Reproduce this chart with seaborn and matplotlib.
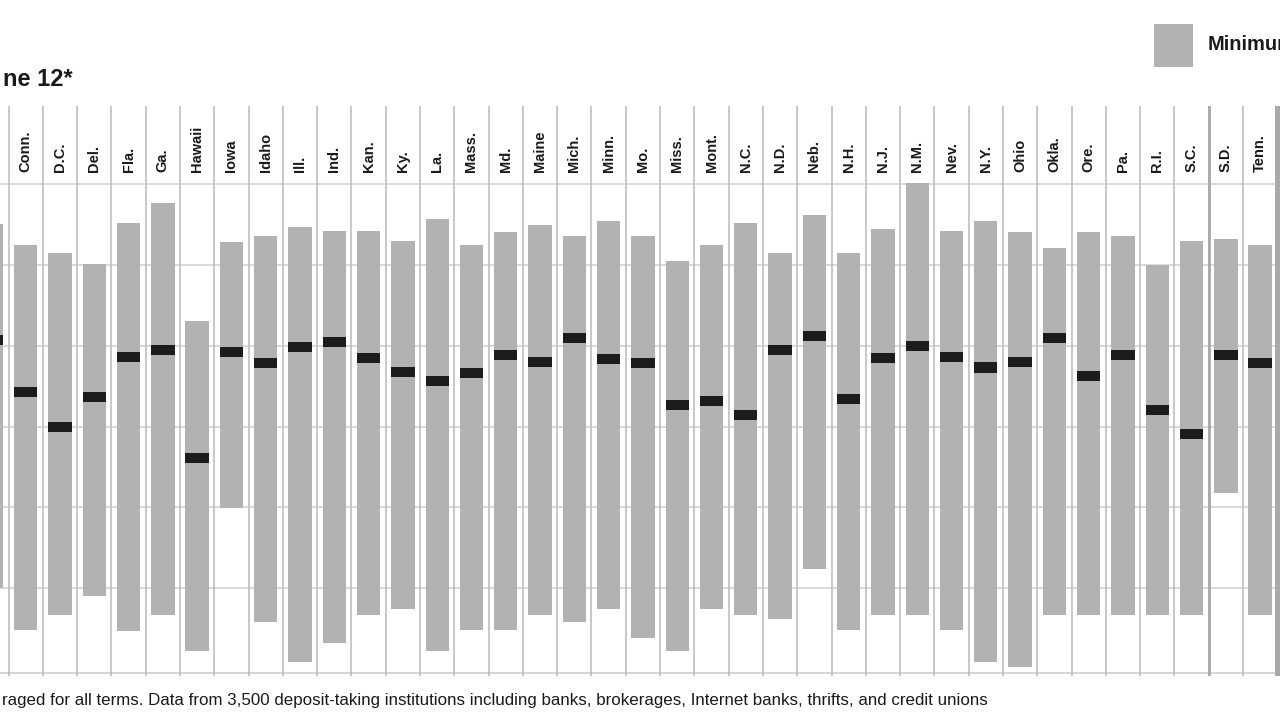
import matplotlib
matplotlib.use("Agg")
import matplotlib.pyplot as plt
from matplotlib.patches import Rectangle
import numpy as np
import pandas as pd
import seaborn as sns

sns.set_style("white")
plt.rcParams['font.family'] = ['Liberation Sans', 'DejaVu Sans']

# states in column order (first one is cut off at the left edge)
states = ["Colo.", "Conn.", "D.C.", "Del.", "Fla.", "Ga.", "Hawaii", "Iowa", "Idaho",
          "Ill.", "Ind.", "Kan.", "Ky.", "La.", "Mass.", "Md.", "Maine", "Mich.",
          "Minn.", "Mo.", "Miss.", "Mont.", "N.C.", "N.D.", "Neb.", "N.H.", "N.J.",
          "N.M.", "Nev.", "N.Y.", "Ohio", "Okla.", "Ore.", "Pa.", "R.I.", "S.C.",
          "S.D.", "Tenn."]

# rates, %
rate_max = [5.51, 5.25, 5.15, 5.01, 5.52, 5.76, 4.30, 5.28, 5.35, 5.47, 5.42, 5.42,
            5.30, 5.56, 5.25, 5.40, 5.49, 5.35, 5.54, 5.35, 5.05, 5.25, 5.52, 5.15,
            5.62, 5.15, 5.44, 6.01, 5.42, 5.54, 5.40, 5.21, 5.40, 5.35, 5.00, 5.30,
            5.32, 5.25]
rate_min = [1.00, 0.48, 0.67, 0.91, 0.47, 0.67, 0.23, 1.99, 0.58, 0.09, 0.33, 0.67,
            0.74, 0.23, 0.48, 0.48, 0.67, 0.58, 0.74, 0.38, 0.23, 0.74, 0.67, 0.62,
            1.24, 0.48, 0.67, 0.67, 0.48, 0.09, 0.03, 0.67, 0.67, 0.67, 0.67, 0.67,
            2.18, 0.67]
rate_avg = [4.07, 3.43, 2.99, 3.36, 3.86, 3.95, 2.61, 3.92, 3.78, 3.98, 4.05, 3.85,
            3.68, 3.56, 3.66, 3.88, 3.80, 4.10, 3.84, 3.78, 3.27, 3.32, 3.14, 3.95,
            4.12, 3.34, 3.85, 4.00, 3.86, 3.73, 3.80, 4.09, 3.63, 3.88, 3.20, 2.91,
            3.88, 3.78]

BAR = "#b1b2b4"
MARK = "#1c1c1c"
LINE = "#b9b9b9"
GRID = "#cfcfcf"
mark_h = 0.124

df = pd.DataFrame({
    "state": states,
    "span": np.array(rate_max) - np.array(rate_min),
    "low": rate_min,
    "avg": rate_avg,
})

fig = plt.figure(figsize=(12.8, 7.2), dpi=100)
ax = fig.add_axes([0, 44 / 720, 1, 570 / 720])

# min-max range bars
sns.barplot(data=df, x="state", y="span", order=states, bottom=df["low"].values,
            color=BAR, saturation=1, width=0.68, errorbar=None, linewidth=0,
            ax=ax, zorder=2)
# average marks
sns.barplot(data=df, x="state", y=np.full(len(states), mark_h), order=states,
            bottom=df["avg"].values - mark_h / 2, color=MARK, saturation=1,
            width=0.68, errorbar=None, linewidth=0, ax=ax, zorder=3)

ax.set_xlim(0.2505, 37.579)
ax.set_ylim(-0.084, 6.963)
ax.set_yticks(range(1, 7))
ax.yaxis.grid(True, color=GRID, lw=1.1)
ax.set_axisbelow(True)
ax.axhline(-0.047, color=GRID, lw=1.2, zorder=1)
ax.tick_params(left=False, bottom=False, labelleft=False, labelbottom=False)
ax.set_xlabel("")
ax.set_ylabel("")
for s in ax.spines.values():
    s.set_visible(False)

# column dividers
for i in range(len(states)):
    ax.axvline(i + 0.5, color=LINE, lw=1.1, zorder=1)
ax.axvline(35.5, color="#a9a9a9", lw=2.0, zorder=1)
ax.axvline(37.5, color="#a9a9a9", lw=3.6, zorder=1)

# state names in the header (the cut-off first column shows no name)
for i, name in enumerate(states):
    if i == 0:
        continue
    ax.text(i, 6.149, name, rotation=90, ha="center", va="bottom",
            fontsize=10.5, fontweight="bold", color="#1a1a1a")

fig.text(3 / 1280, 1 - 80 / 720, "ne 12*", fontsize=17, fontweight="bold",
         color="#1a1a1a", ha="left", va="center")

fig.add_artist(Rectangle((1154 / 1280, 1 - 67 / 720), 39 / 1280, 43 / 720,
                         transform=fig.transFigure, color=BAR, lw=0))
fig.text(1208 / 1280, 1 - 45 / 720, "Minimum", fontsize=14.5, fontweight="bold",
         color="#1a1a1a", ha="left", va="center")

fig.text(2 / 1280, 1 - 701 / 720,
         "raged for all terms. Data from 3,500 deposit-taking institutions including "
         "banks, brokerages, Internet banks, thrifts, and credit unions",
         fontsize=12.2, color="#1a1a1a", ha="left", va="center")

fig.savefig("out.png", dpi=100)
